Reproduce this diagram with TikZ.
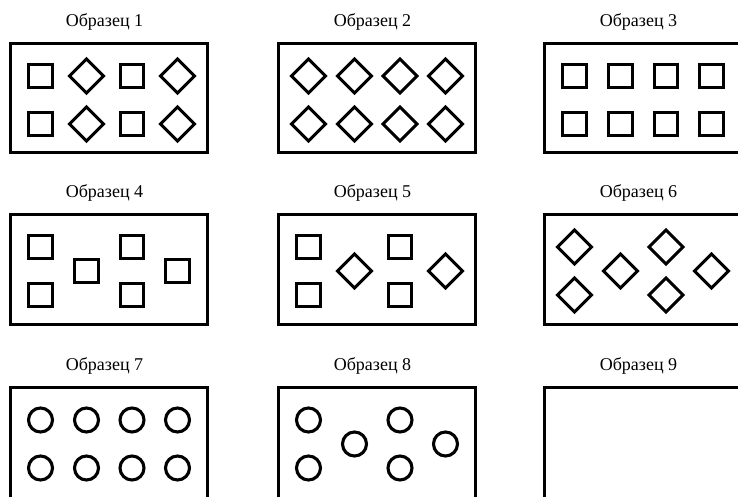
\documentclass[tikz,border=0pt]{standalone}
\usepackage{fontspec}
\setmainfont{Liberation Serif}
\tikzset{
  frame/.style={line width=3.2pt},
  shp/.style={line width=3.1pt, line join=miter},
  lbl/.style={anchor=base, font=\fontsize{18}{20}\selectfont, inner sep=0pt},
  sqr/.pic={\draw[shp] (-11.8,-11.8) rectangle (11.8,11.8);},
  dia/.pic={\draw[shp] (0,-17) -- (17,0) -- (0,17) -- (-17,0) -- cycle;},
  circ/.pic={\draw[shp] (0,0) circle[radius=12];},
}
% column centres and rows relative to a panel
\def\ca{31.5}\def\cb{77.5}\def\cc{123}\def\cd{168.5}
\def\rt{34}\def\rb{82}\def\rm{58}
\newcommand\panelbox[5]{% x y name label height
  \begin{scope}[shift={(#1,#2)}]
    \draw[frame] (1.5,1.5) rectangle (198.5,#5);
    \node[lbl] (#3) at (95.5,-16) {#4};
  \end{scope}}
\newcommand\gridpics[6]{% x y pic1 pic2 pic3 pic4 (two rows)
  \begin{scope}[shift={(#1,#2)}]
    \foreach \r in {\rt,\rb}{
      \pic at (\ca,\r) {#3}; \pic at (\cb,\r) {#4};
      \pic at (\cc,\r) {#5}; \pic at (\cd,\r) {#6};}
  \end{scope}}
\newcommand\zigpics[4]{% x y pic-outer pic-middle
  \begin{scope}[shift={(#1,#2)}]
    \pic at (\ca,\rt) {#3}; \pic at (\ca,\rb) {#3};
    \pic at (\cb,\rm) {#4};
    \pic at (\cc,\rt) {#3}; \pic at (\cc,\rb) {#3};
    \pic at (\cd,\rm) {#4};
  \end{scope}}
\begin{document}
\begin{tikzpicture}[x=1pt,y=-1pt]
  \useasboundingbox (0,0) rectangle (738,496);
  \clip (0,0) rectangle (738,496);
  % row 1
  \panelbox{9}{42}{l1}{Образец 1}{110.5}
  \gridpics{9}{42}{sqr}{dia}{sqr}{dia}
  \panelbox{277}{42}{l2}{Образец 2}{110.5}
  \gridpics{277}{42}{dia}{dia}{dia}{dia}
  \panelbox{543}{42}{l3}{Образец 3}{110.5}
  \gridpics{543}{42}{sqr}{sqr}{sqr}{sqr}
  % row 2
  \panelbox{9}{213}{l4}{Образец 4}{111.5}
  \zigpics{9}{213}{sqr}{sqr}
  \panelbox{277}{213}{l5}{Образец 5}{111.5}
  \zigpics{277}{213}{sqr}{dia}
  \panelbox{543}{213}{l6}{Образец 6}{111.5}
  \zigpics{543}{213}{dia}{dia}
  % row 3 (cut off at the bottom)
  \panelbox{9}{386}{l7}{Образец 7}{125}
  \gridpics{9}{386}{circ}{circ}{circ}{circ}
  \panelbox{277}{386}{l8}{Образец 8}{125}
  \zigpics{277}{386}{circ}{circ}
  \panelbox{543}{386}{l9}{Образец 9}{125}
\end{tikzpicture}
\end{document}
